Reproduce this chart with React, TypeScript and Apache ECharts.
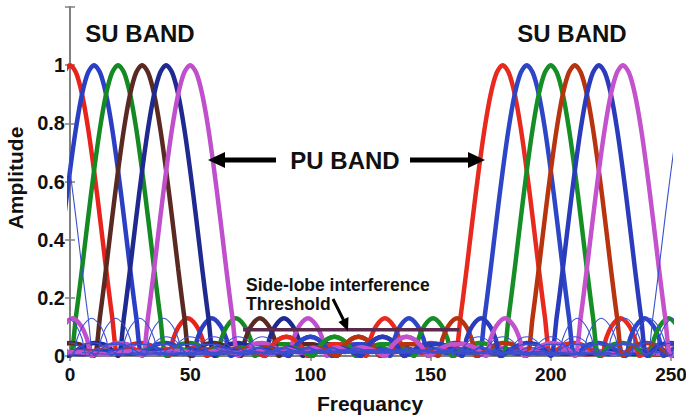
import React, { useEffect, useRef } from "react";
import * as echarts from "echarts";

// One sub-carrier's spectrum (positive offsets; mirrored)
const PULSE_OFFSETS = [
  0, 2.5, 5, 7.5, 10, 12.5, 15, 17.5, 20,
  22.5, 26, 30, 34, 38, 41,
  43, 45.5, 49, 52.5, 55, 57,
  61, 66, 71, 76, 81,
  84, 87, 90, 93, 96, 99,
  104, 109, 114, 119, 124, 129, 134, 140, 147, 154, 161, 168, 176, 185, 195, 205, 215, 228, 240, 255,
];
const PULSE_AMPS = [
  1, 0.974, 0.9, 0.784, 0.637, 0.473, 0.3, 0.137, 0.0,
  0.02, 0.04, 0.045, 0.035, 0.015, 0.0,
  0.06, 0.105, 0.13, 0.105, 0.06, 0.0,
  0.025, 0.04, 0.04, 0.025, 0.0,
  0.035, 0.058, 0.066, 0.058, 0.035, 0.0,
  0.02, 0.03, 0.015, 0.03, 0.015, 0.028, 0.012, 0.025, 0.01, 0.022, 0.01, 0.02, 0.008, 0.018, 0.008, 0.016, 0.006, 0.014, 0.005, 0.012,
];

const LEFT_CENTERS = [0, 10, 20, 30, 40, 50];
const RIGHT_CENTERS = [180, 190, 200, 210, 220, 230];
const EDGE_CENTERS = [-50, -40, -30, -20, -10, 260, 270, 280, 290, 300];
const LEFT_COLORS = ["#e8231c", "#2a3fc4", "#158a23", "#5a2a22", "#1f2a90", "#c04fcc"];
const RIGHT_COLORS = ["#e82a1e", "#2d46c8", "#168e26", "#b8340e", "#2a3cbc", "#c452cc"];
const THIN_COLOR = "#3a4fd0";

const THRESHOLD_X = [72, 162];
const THRESHOLD_Y = 0.09;

const X_MIN = 0, X_MAX = 250, X_STEP = 50;
const Y_MIN = 0, Y_MAX = 1.2, Y_STEP = 0.2;

function pulse(center: number): number[][] {
  const pts: number[][] = [];
  for (let i = PULSE_OFFSETS.length - 1; i >= 1; i--) pts.push([center - PULSE_OFFSETS[i], PULSE_AMPS[i]]);
  for (let i = 0; i < PULSE_OFFSETS.length; i++) pts.push([center + PULSE_OFFSETS[i], PULSE_AMPS[i]]);
  return pts;
}

const FONT = "'Liberation Sans', Arial, Helvetica, sans-serif";

export default function App() {
  const ref = useRef<HTMLDivElement>(null);
  useEffect(() => {
    if (!ref.current) return;
    const chart = echarts.init(ref.current, null, { renderer: "svg" });
    const series: any[] = [];
    LEFT_CENTERS.forEach((c, i) =>
      series.push({
        type: "line", data: pulse(c), smooth: 0.3, symbol: "none",
        lineStyle: { color: LEFT_COLORS[i], width: 4.5 }, z: 3,
      })
    );
    RIGHT_CENTERS.forEach((c, i) =>
      series.push({
        type: "line", data: pulse(c), smooth: 0.3, symbol: "none",
        lineStyle: { color: RIGHT_COLORS[i], width: 4.5 }, z: 3,
      })
    );
    EDGE_CENTERS.forEach((c) =>
      series.push({
        type: "line", data: pulse(c), smooth: 0.3, symbol: "none",
        lineStyle: { color: THIN_COLOR, width: 1.1 }, z: 4,
      })
    );
    series.push({
      type: "line", data: [[THRESHOLD_X[0], THRESHOLD_Y], [THRESHOLD_X[1], THRESHOLD_Y]],
      symbol: "none", lineStyle: { color: "#5b2a4e", width: 3.5 }, z: 5,
    });

    const axisLine = { show: true, lineStyle: { color: "#808080", width: 2 } };
    const axisTick = { show: true, inside: true, length: 5, lineStyle: { color: "#808080", width: 1.5 } };
    const labelStyle = { fontFamily: FONT, fontWeight: "bold" as const, color: "#111" };

    const txt = { fontFamily: FONT, fontWeight: "bold", fill: "#111" };

    chart.setOption({
      animation: false,
      backgroundColor: "#ffffff",
      grid: { left: 70, right: 15, top: 7, bottom: 61, containLabel: false, outerBoundsMode: "none" },
      xAxis: [
        {
          type: "value", min: X_MIN, max: X_MAX, interval: X_STEP, position: "bottom",
          axisLine, axisTick, splitLine: { show: false },
          axisLabel: { ...labelStyle, fontSize: 19, margin: 9 },
        },
        {
          type: "value", min: X_MIN, max: X_MAX, interval: X_STEP, position: "top",
          axisLine, axisTick, splitLine: { show: false }, axisLabel: { show: false },
        },
      ],
      yAxis: [
        {
          type: "value", min: Y_MIN, max: Y_MAX, interval: Y_STEP, position: "left",
          axisLine, axisTick, splitLine: { show: false },
          axisLabel: {
            ...labelStyle, fontSize: 20, margin: 5,
            formatter: (v: number) => (v > 1.05 ? "" : String(Math.round(v * 10) / 10)),
          },
        },
        {
          type: "value", min: Y_MIN, max: Y_MAX, interval: Y_STEP, position: "right",
          axisLine, axisTick, splitLine: { show: false }, axisLabel: { show: false },
        },
      ],
      series,
      graphic: [
        { type: "text", x: 140, y: 33, style: { text: "SU BAND", ...txt, fontSize: 24, align: "center", verticalAlign: "middle" }, z: 10 },
        { type: "text", x: 572, y: 33, style: { text: "SU BAND", ...txt, fontSize: 24, align: "center", verticalAlign: "middle" }, z: 10 },
        { type: "text", x: 345, y: 160, style: { text: "PU BAND", ...txt, fontSize: 24, align: "center", verticalAlign: "middle" }, z: 10 },
        { type: "line", shape: { x1: 276, y1: 160, x2: 222, y2: 160 }, style: { stroke: "#000", lineWidth: 5 }, z: 10 },
        { type: "polygon", shape: { points: [[208, 160], [225, 152], [225, 168]] }, style: { fill: "#000" }, z: 10 },
        { type: "line", shape: { x1: 410, y1: 160, x2: 470, y2: 160 }, style: { stroke: "#000", lineWidth: 5 }, z: 10 },
        { type: "polygon", shape: { points: [[485, 160], [468, 152], [468, 168]] }, style: { fill: "#000" }, z: 10 },
        { type: "text", x: 246, y: 276, style: { text: "Side-lobe interference", ...txt, fontSize: 17.5, align: "left", verticalAlign: "top" }, z: 10 },
        { type: "text", x: 246, y: 295, style: { text: "Threshold", ...txt, fontSize: 17.5, align: "left", verticalAlign: "top" }, z: 10 },
        { type: "line", shape: { x1: 333, y1: 299, x2: 344, y2: 321 }, style: { stroke: "#000", lineWidth: 3 }, z: 10 },
        { type: "polygon", shape: { points: [[348, 331], [338.5, 322], [348.5, 317]] }, style: { fill: "#000" }, z: 10 },
        { type: "text", x: 15, y: 178, rotation: Math.PI / 2, style: { text: "Amplitude", ...txt, fontSize: 21, align: "center", verticalAlign: "middle" }, z: 10 },
        { type: "text", x: 370, y: 403, style: { text: "Frequancy", ...txt, fontSize: 21, align: "center", verticalAlign: "middle" }, z: 10 },
      ],
    });
    return () => chart.dispose();
  }, []);
  return <div ref={ref} style={{ width: 686, height: 417, position: "absolute", left: 0, top: 0 }} />;
}
